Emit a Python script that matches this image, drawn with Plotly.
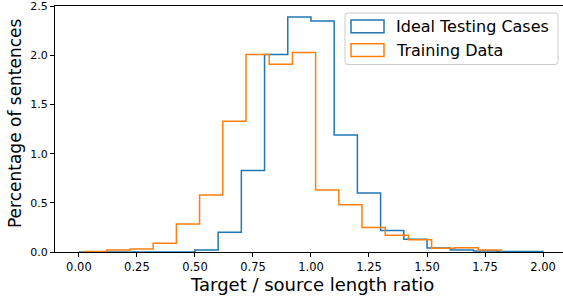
import plotly.graph_objects as go

# ---- data ----
blue_edges = [round(0.1 * i, 2) for i in range(21)]  # 0.0 .. 2.0
blue_vals = [0.0, 0.0, 0.0, 0.0, 0.0, 0.02, 0.20, 0.83, 2.01, 2.39,
             2.35, 1.19, 0.60, 0.22, 0.13, 0.04, 0.02, 0.01, 0.005, 0.005]
orange_edges = [round(0.02 + 0.1 * i, 2) for i in range(19)]  # 0.02 .. 1.82
orange_vals = [0.005, 0.02, 0.03, 0.09, 0.285, 0.58, 1.33, 2.01, 1.91,
               2.03, 0.63, 0.48, 0.25, 0.17, 0.125, 0.037, 0.043, 0.02]
labels = ["Ideal Testing Cases", "Training Data"]
colors = ["#1f77b4", "#ff7f0e"]
xticks = [0.0, 0.25, 0.5, 0.75, 1.0, 1.25, 1.5, 1.75, 2.0]
yticks = [0.0, 0.5, 1.0, 1.5, 2.0, 2.5]

W, H = 563, 299
L, R, T, B = 55, 0, 4, 47
FONT = "DejaVu Sans"


def step_xy(edges, vals):
    xs = [edges[0]] + list(edges[:-1]) + [edges[-1], edges[-1]]
    ys = [0] + list(vals) + [vals[-1], 0]
    return xs, ys


fig = go.Figure()
for edges, vals, c, name in [(blue_edges, blue_vals, colors[0], labels[0]),
                             (orange_edges, orange_vals, colors[1], labels[1])]:
    xs, ys = step_xy(edges, vals)
    fig.add_trace(go.Scatter(x=xs, y=ys, mode="lines", line_shape="hv",
                             line=dict(color=c, width=1.5), name=name,
                             showlegend=False, hoverinfo="skip"))

pw = W - L - R
ph = H - T - B


def px(x):
    return (x - L) / pw


def py(y):
    return (H - B - y) / ph


shapes = []
# legend box with rounded corners
x0, x1, y0, y1, r = px(345), px(558), py(11), py(63), 3
rx, ry = r / pw, r / ph
path = (f"M{x0+rx},{y0} L{x1-rx},{y0} Q{x1},{y0} {x1},{y0-ry} "
        f"L{x1},{y1+ry} Q{x1},{y1} {x1-rx},{y1} L{x0+rx},{y1} "
        f"Q{x0},{y1} {x0},{y1+ry} L{x0},{y0-ry} Q{x0},{y0} {x0+rx},{y0} Z")
shapes.append(dict(type="path", path=path, xref="paper", yref="paper",
                   line=dict(color="#cccccc", width=1),
                   fillcolor="rgba(255,255,255,0.8)", layer="above"))
annotations = []
for i, (c, name) in enumerate(zip(colors, labels)):
    top = 18 + i * 24
    shapes.append(dict(type="rect", xref="paper", yref="paper",
                       x0=px(351), x1=px(384), y0=py(top), y1=py(top + 13),
                       line=dict(color=c, width=1.5), fillcolor="rgba(0,0,0,0)",
                       layer="above"))
    annotations.append(dict(text=name, xref="paper", yref="paper",
                            x=px(394), y=py(top + 6.5), xanchor="left",
                            yanchor="middle", showarrow=False,
                            font=dict(family=FONT, size=16, color="black")))

annotations.append(dict(text="Target / source length ratio", xref="paper",
                        yref="paper", x=px(312), y=py(285), xanchor="center",
                        yanchor="middle", showarrow=False, borderpad=0,
                        font=dict(family=FONT, size=18, color="black")))
annotations.append(dict(text="Percentage of sentences", xref="paper",
                        yref="paper", x=px(15), y=py(122), xanchor="center",
                        yanchor="middle", showarrow=False, textangle=-90,
                        font=dict(family=FONT, size=17, color="black")))

fig.update_layout(
    width=W, height=H, autosize=False,
    margin=dict(l=L, r=R, t=T, b=B, pad=0),
    plot_bgcolor="white", paper_bgcolor="white",
    shapes=shapes, annotations=annotations,
    font=dict(family=FONT, size=11, color="black"),
    xaxis=dict(range=[-0.103, 2.086], tickvals=xticks,
               ticktext=[f"{v:.2f}" for v in xticks], ticks="outside",
               ticklen=4, tickcolor="black", showline=True, linecolor="black",
               linewidth=1, mirror=True, showgrid=False, zeroline=False,
               ticklabeloverflow="allow",
               tickfont=dict(family=FONT, size=11.5, color="black")),
    yaxis=dict(range=[0, 2.503], tickvals=yticks,
               ticktext=[f"{v:.1f}" for v in yticks], ticks="outside",
               ticklen=4, tickcolor="black", showline=True, linecolor="black",
               linewidth=1, showgrid=False, zeroline=False,
               ticklabeloverflow="allow",
               tickfont=dict(family=FONT, size=11, color="black")),
)

fig.write_html("out.html", config={"displayModeBar": False},
               post_script="document.body.style.margin='0';"
                           "document.body.style.overflow='hidden';")
